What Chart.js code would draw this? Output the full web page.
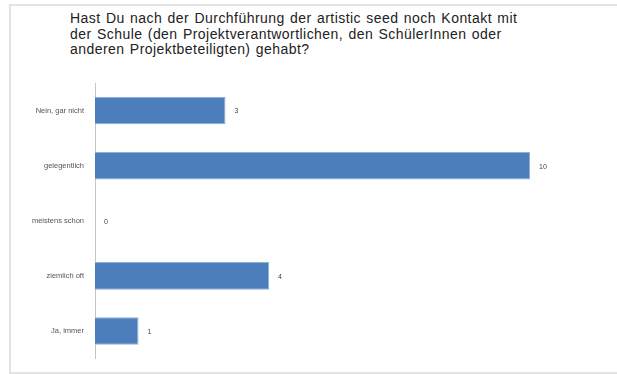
<!DOCTYPE html>
<html>
<head>
<meta charset="utf-8">
<script src="https://cdn.jsdelivr.net/npm/chart.js@4"></script>
<style>
  html, body { margin: 0; padding: 0; background: #fff; overflow: hidden; }
  #wrap { position: relative; width: 617px; height: 374px; overflow: hidden; }
  #frame { position: absolute; left: 9px; top: 4px; width: 620px; height: 366px;
           border: 2px solid #e3e3e3; border-right: none; }
  #title { position: absolute; left: 70px; top: 11px; font-family: "Liberation Sans", Arial, sans-serif;
           font-size: 14px; letter-spacing: 0.45px; word-spacing: 1px; line-height: 15.5px; color: #222; }
  canvas { position: absolute; left: 0; top: 0; }
</style>
</head>
<body>
<div id="wrap">
  <div id="frame"></div>
  <div id="title">Hast Du nach der Durchführung der artistic seed noch Kontakt mit<br>der Schule (den Projektverantwortlichen, den SchülerInnen oder<br>anderen Projektbeteiligten) gehabt?</div>
  <canvas id="myChart" width="617" height="374"></canvas>
</div>
<script>
// Antworten und Anzahl
const categories = ['Nein, gar nicht', 'gelegentlich', 'meistens schon', 'ziemlich oft', 'Ja, immer'];
const counts = [3, 10, 0, 4, 1];

// Werte neben die Balken schreiben
const valueLabels = {
  id: 'valueLabels',
  afterDatasetsDraw(chart) {
    const ctx = chart.ctx;
    const meta = chart.getDatasetMeta(0);
    ctx.save();
    ctx.font = '7px "Liberation Sans", Arial, sans-serif';
    ctx.fillStyle = '#444';
    ctx.textBaseline = 'middle';
    meta.data.forEach((bar, i) => {
      ctx.fillText(String(counts[i]), bar.x + 9, bar.y + 1);
    });
    ctx.restore();
  }
};

new Chart(document.getElementById('myChart').getContext('2d'), {
  type: 'bar',
  data: {
    labels: categories,
    datasets: [{
      data: counts,
      backgroundColor: '#4d7ebc',
      borderColor: '#8fb0da',
      borderWidth: 1,
      categoryPercentage: 1,
      barPercentage: 0.5,
    }],
  },
  options: {
    indexAxis: 'y',
    responsive: false,
    animation: false,
    layout: { padding: { left: 0, right: 0, top: 83, bottom: 10 } },
    plugins: { legend: { display: false }, tooltip: { enabled: false } },
    scales: {
      x: { display: false, min: 0, max: 12 },
      y: {
        afterFit: (s) => { s.width = 95; },
        grid: { display: false, drawTicks: false },
        border: { display: true, color: '#c4c4c4', width: 1 },
        ticks: {
          padding: 11,
          color: '#555',
          font: { family: '"Liberation Sans", Arial, sans-serif', size: 7.5 },
        },
      },
    },
  },
  plugins: [valueLabels],
});
</script>
</body>
</html>
